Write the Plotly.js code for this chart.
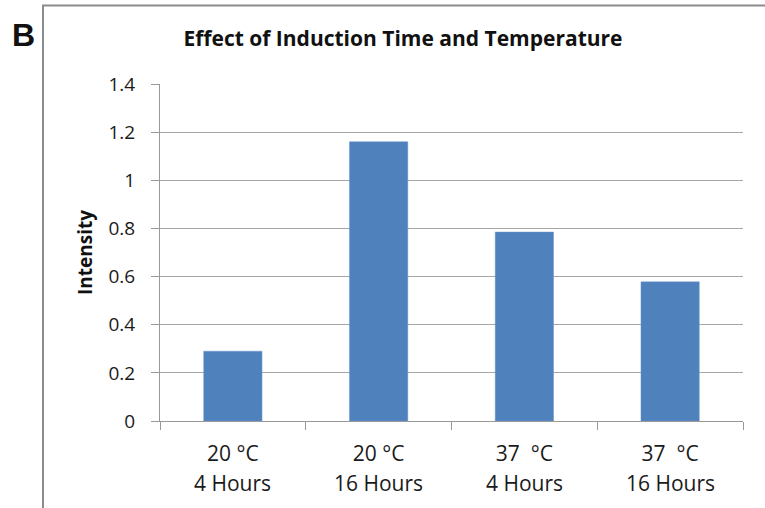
<!DOCTYPE html>
<html>
<head>
<meta charset="utf-8">
<script src="https://cdn.plot.ly/plotly-3.0.1.min.js"></script>
<style>html,body{margin:0;padding:0;background:#fff;}#chart{width:765px;height:508px;}</style>
</head>
<body>
<div id="chart"></div>
<script>
var categories = ["c1", "c2", "c3", "c4"];
var tempLabels = ["20 °C", "20 °C", "37 \u00a0°C", "37 \u00a0°C"];
var timeLabels = ["4 Hours", "16 Hours", "4 Hours", "16 Hours"];
var intensity = [0.29, 1.16, 0.785, 0.578];
var yTicks = [0, 0.2, 0.4, 0.6, 0.8, 1, 1.2, 1.4];

var FONT = "Open Sans, sans-serif";
var L = 160, R = 22, T = 84, B = 87, W = 765, H = 508;
var pw = W - L - R, ph = H - T - B;
function px(x) { return (x - L) / pw; }
function py(y) { return (H - B - y) / ph; }

var annotations = categories.map(function (c, i) {
  return {x: c, xref: "x", y: py(483), yref: "paper", text: timeLabels[i], showarrow: false,
    xanchor: "center", yanchor: "middle", font: {family: FONT, size: 21, color: "#1a1a1a"}};
});
annotations.push({x: px(23.5), xref: "paper", y: py(34.5), yref: "paper", text: "<b>B</b>", showarrow: false,
  xanchor: "center", yanchor: "middle", font: {family: "Liberation Sans, Arial, sans-serif", size: 32, color: "#111"}});

var data = [{
  type: "bar", x: categories, y: intensity,
  marker: {color: "#4F81BD", line: {color: "#6A96CC", width: 0.5}},
  hoverinfo: "none"
}];

var layout = {
  width: W, height: H,
  margin: {l: L, r: R, t: T, b: B, pad: 0},
  paper_bgcolor: "#fff", plot_bgcolor: "#fff",
  showlegend: false,
  bargap: 0.6,
  title: {text: "<b>Effect of Induction Time and Temperature</b>", xref: "container", x: 403 / W, xanchor: "center",
    yref: "container", y: 1 - 39 / H, yanchor: "middle", font: {family: FONT, size: 21, color: "#111"}},
  xaxis: {
    type: "category", tickvals: categories, ticktext: tempLabels,
    showgrid: false, showline: true, linecolor: "#999", linewidth: 1,
    ticks: "outside", tickson: "boundaries", ticklen: 8, tickcolor: "#999", tickwidth: 1,
    ticklabelstandoff: 14,
    tickfont: {family: FONT, size: 21, color: "#1a1a1a"}, zeroline: false, fixedrange: true
  },
  yaxis: {
    range: [0, 1.4], tickvals: yTicks, ticktext: yTicks.map(String),
    showgrid: true, gridcolor: "#A6A6A6", gridwidth: 1,
    showline: true, linecolor: "#999", linewidth: 1,
    ticks: "outside", ticklen: 8, tickcolor: "#999", tickwidth: 1,
    ticklabelstandoff: 12,
    tickfont: {family: FONT, size: 19, color: "#1a1a1a"}, zeroline: false, fixedrange: true,
    title: {text: "<b>Intensity</b>", standoff: 10, font: {family: FONT, size: 19, color: "#111"}}
  },
  shapes: [{
    type: "path", xref: "paper", yref: "paper",
    path: "M " + px(43) + " " + py(H + 2) + " L " + px(43) + " " + py(5.5) + " L " + px(W + 2) + " " + py(5.5),
    line: {color: "#8C8C8C", width: 2}
  }],
  annotations: annotations
};

Plotly.newPlot("chart", data, layout, {staticPlot: true});
</script>
</body>
</html>
